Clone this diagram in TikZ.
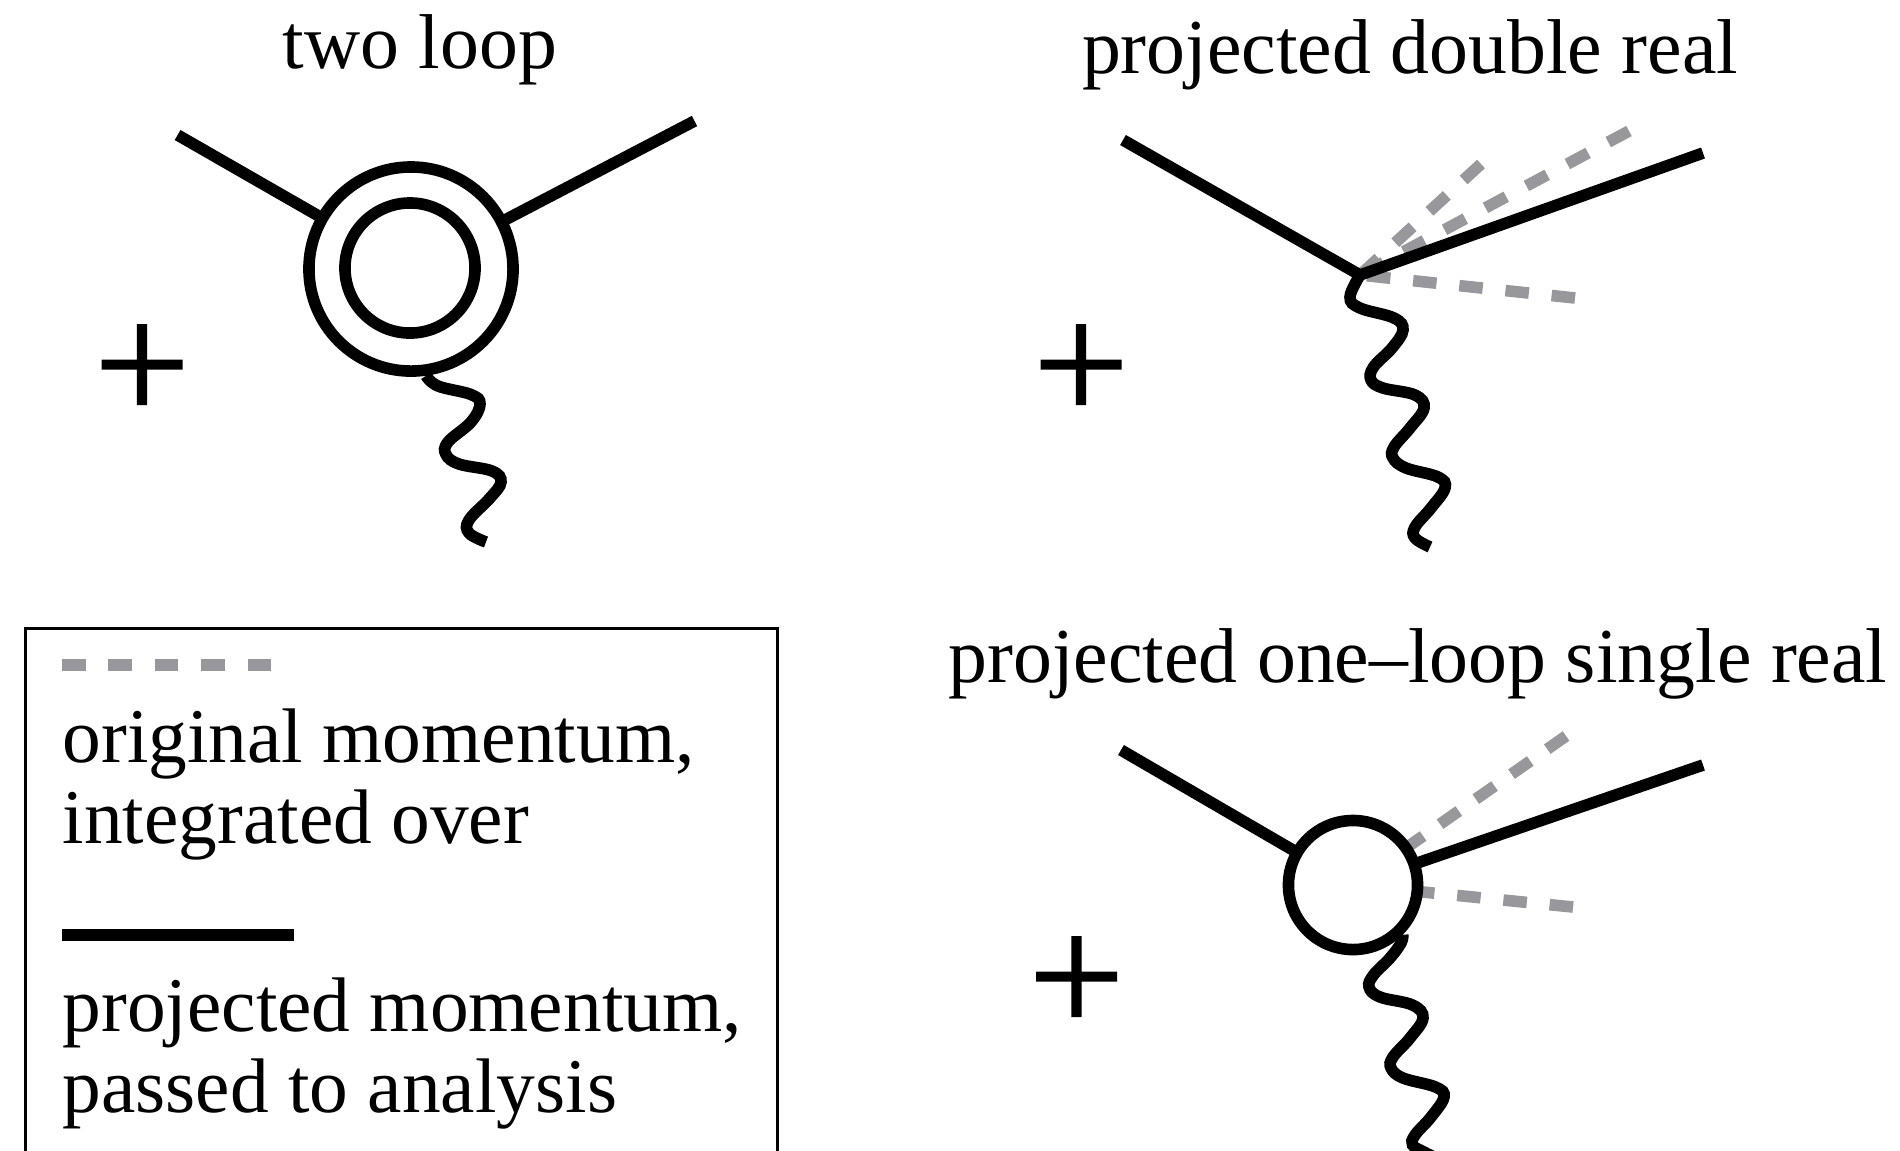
\documentclass[tikz,border=0pt]{standalone}
\usepackage{fontspec}
\setmainfont{Liberation Serif}
\newfontfamily\plusfont[AutoFakeBold=0.9]{Liberation Serif}
\usepackage{xcolor}
\usetikzlibrary{positioning}
\definecolor{PRJgray}{HTML}{98979C}
\tikzset{
  hardline/.style={line width=3.3pt, draw=black},
  softline/.style={line width=3.3pt, draw=PRJgray, dash pattern=on 6.7pt off 6.5pt},
  wavyline/.style={line width=3.3pt, draw=black, smooth, tension=0.65},
  looprim/.style={circle, draw=black, line width=3.3pt, fill=white, inner sep=0pt},
  heading/.style={inner sep=0pt, anchor=base, font=\fontsize{22.1}{26}\selectfont},
  plussign/.style={inner sep=0pt, font=\fontsize{48.5}{54}\plusfont\bfseries},
  legendtext/.style={inner sep=0pt, anchor=base west, align=left, font=\fontsize{22}{22.76}\selectfont},
  legendbox/.style={draw=black, line width=0.85pt}
}
\begin{document}
\begin{tikzpicture}[x=0.01cm, y=-0.01cm]
\clip (0,0) rectangle (1900,1150);
\node[heading] (titleA) at (420,68) {two loop};
\node[heading] (titleB) at (1410,73) {projected double real};
\node[heading] (titleC) at (1418,682) {projected one–loop single real};
\node[plussign] (plusA) at (142,373) {+};
\node[plussign] (plusB) at (1081,373) {+};
\node[plussign] (plusC) at (1076.5,985) {+};

\coordinate (inA) at (177.6,135);
\coordinate (outA) at (694.5,121);
\draw[hardline] (inA) -- (411,269);
\draw[hardline] (outA) -- (411,269);
\node[looprim, minimum size=2.04cm] (outerA) at (411,269) {};
\node[looprim, minimum size=1.30cm] (innerA) at (410,268) {};
\draw[wavyline] plot coordinates {(outerA.-82) (438,386) (471,394.5) (480,404) (471,422) (448,442) (446,454.5) (459,464) (492,471) (501,482) (490,498) (469,520) (469,533) (486,542)};

\coordinate (vtxB) at (1360,275);
\coordinate (softB) at (1481,164);
\coordinate (softC) at (1629,131);
\coordinate (softD) at (1575,298);
\coordinate (inB) at (1123,140);
\coordinate (outB) at (1703,153);
\draw[softline] (softB) -- (vtxB);
\draw[softline] (softC) -- (vtxB);
\draw[softline] (softD) -- (vtxB);
\draw[hardline] (inB) -- (vtxB) -- (outB);
\draw[wavyline] plot coordinates {(vtxB) (1350,297) (1360,308) (1394,318) (1403,330) (1392,348) (1373.5,367) (1371,380) (1383,388) (1415,395) (1424,408) (1410,428) (1394,447) (1393,458) (1406,468) (1438,477) (1445,488) (1431,508) (1415,527) (1415,538) (1430,547)};

\coordinate (softE) at (1566,736);
\coordinate (softF) at (1573,907);
\coordinate (inC) at (1121,750);
\coordinate (outC) at (1703,765);
\coordinate (midC) at (1353,885);
\draw[softline, dash pattern=on 6.5pt off 5.9pt] (softE) -- (midC);
\draw[softline] (softF) -- (midC);
\draw[hardline] (inC) -- (midC);
\draw[hardline] (outC) -- (midC);
\node[looprim, minimum size=1.29cm] (loopC) at (midC) {};
\draw[wavyline] plot coordinates {(loopC.-45) (1401,943) (1390,958) (1373.5,975) (1369,987) (1380,997) (1412.5,1005) (1423,1018) (1410,1038) (1393,1057) (1391,1068) (1403,1078) (1435.5,1087) (1444,1097) (1431,1117) (1415,1135) (1412.5,1145) (1424,1152) (1432,1156)};

\draw[legendbox] (25.5,628) rectangle (777.5,1200);
\coordinate (keyA) at (62,665);
\coordinate (keyB) at (271,665);
\coordinate (keyC) at (62,935);
\coordinate (keyD) at (294,935);
\draw[softline] (keyA) -- (keyB);
\draw[hardline] (keyC) -- (keyD);
\node[legendtext] (textA) at (62,843) {original momentum,\\integrated over};
\node[legendtext] (textB) at (62,1112) {projected momentum,\\passed to analysis};
\end{tikzpicture}
\end{document}
